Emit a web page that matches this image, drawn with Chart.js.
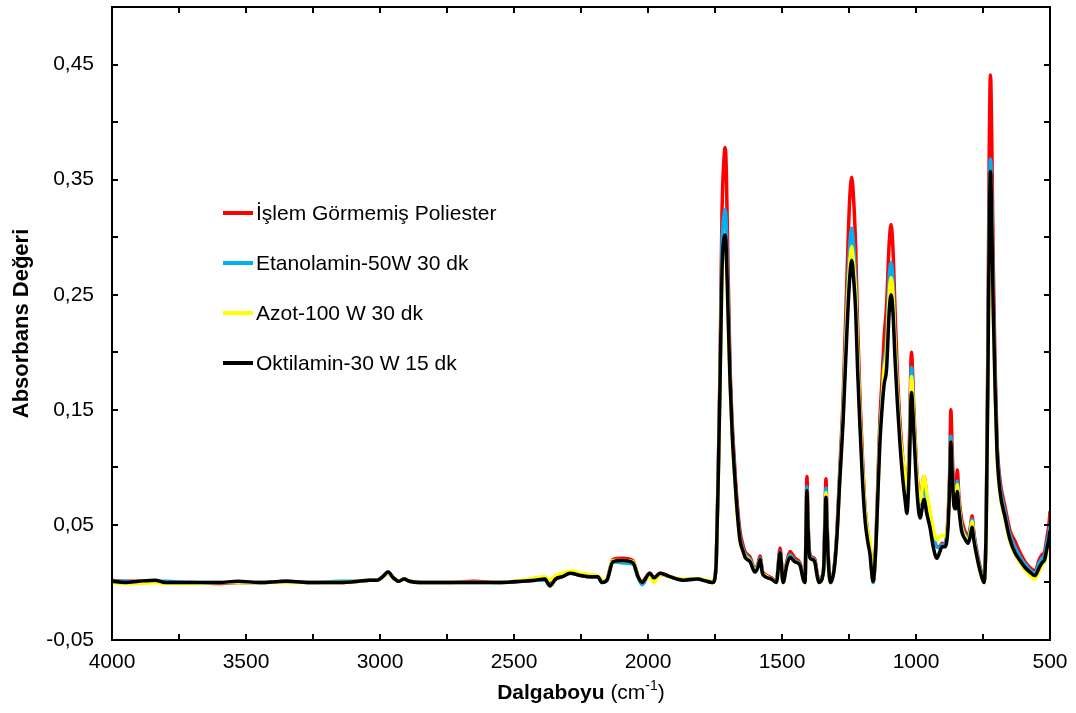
<!DOCTYPE html>
<html>
<head>
<meta charset="utf-8">
<script src="https://cdn.jsdelivr.net/npm/chart.js@4.4.1/dist/chart.umd.min.js"></script>
<style>
  body { margin: 0; background: #fff; }
  canvas { display: block; }
</style>
</head>
<body>
<canvas id="chart" width="1076" height="713"></canvas>
<script>
// wavenumbers (cm-1) and absorbance
const waveNumbers = [
  4000, 3950, 3900, 3840, 3800, 3700, 3600, 3530, 3450, 3350,
  3250, 3150, 3080, 3040, 3010, 2990, 2970, 2950, 2930, 2910,
  2890, 2850, 2750, 2650, 2550, 2470, 2420, 2385, 2366, 2345,
  2320, 2291, 2250, 2216, 2187, 2172, 2153, 2131, 2093, 2056,
  2037, 2022, 1993, 1978, 1955, 1918, 1869, 1817, 1780, 1760,
  1752, 1745, 1738, 1731, 1724, 1716, 1712, 1708, 1702, 1694,
  1686, 1680, 1670, 1657, 1645, 1638, 1619, 1601, 1590, 1582,
  1573, 1563, 1540, 1521, 1507, 1496, 1482, 1470, 1452, 1433,
  1420, 1414, 1410, 1407, 1403, 1397, 1388, 1377, 1369, 1362,
  1345, 1340, 1336, 1332, 1325, 1318, 1305, 1295, 1284, 1272,
  1257, 1248, 1240, 1232, 1225, 1218, 1209, 1200, 1190, 1179,
  1172, 1165, 1160, 1150, 1142, 1135, 1127, 1119, 1110, 1100,
  1093, 1086, 1078, 1070, 1060, 1049, 1040, 1034, 1025, 1017,
  1008, 996, 985, 970, 960, 948, 935, 922, 912, 903,
  892, 880, 874, 870, 865, 858, 852, 846, 840, 830,
  818, 806, 796, 791, 785, 775, 765, 755, 746, 738,
  732, 727, 722, 717, 712, 705, 698, 687, 668, 649,
  631, 612, 593, 575, 556, 540, 530, 520, 511, 504,
  500
];

const untreated = [
  .002, .001, .001, .001, .000, .000, -.001, .000, .000, .001,
  .000, .000, .001, .002, .002, .005, .008, .004, .001, .003,
  .001, .000, .000, .001, .000, .001, .002, .003, .000, .003,
  .005, .009, .006, .005, .005, .001, .003, .020, .021, .019,
  .005, .001, .008, .004, .008, .005, .002, .003, .001, .000,
  .002, .022, .095, .190, .320, .370, .378, .360, .280, .190,
  .140, .115, .078, .045, .032, .027, .022, .012, .016, .023,
  .010, .007, .004, .001, .030, .001, .018, .027, .021, .017,
  .004, .001, .055, .092, .055, .026, .022, .020, .008, .001,
  .012, .055, .090, .055, .012, .000, .014, .045, .100, .160,
  .270, .330, .352, .330, .290, .225, .160, .110, .065, .042,
  .033, .012, .000, .035, .090, .140, .175, .213, .240, .295,
  .311, .290, .235, .185, .140, .107, .088, .080, .120, .200,
  .150, .095, .072, .092, .075, .060, .042, .031, .031, .034,
  .033, .060, .100, .150, .115, .075, .072, .098, .075, .055,
  .045, .040, .050, .058, .045, .030, .018, .008, .001, .055,
  .200, .370, .441, .380, .280, .190, .125, .090, .066, .045,
  .036, .026, .018, .013, .010, .020, .024, .027, .040, .050,
  .062
];

const ethanolamine = [
  .001, .001, .000, .001, .001, .000, .000, .000, .000, .001,
  .000, .001, .001, .002, .002, .005, .009, .004, .001, .003,
  .001, .000, .000, .000, .000, .001, .002, .002, -.002, .003,
  .005, .008, .006, .005, .005, .000, .002, .018, .017, .016,
  .004, -.002, .007, .003, .007, .005, .002, .003, .001, .000,
  .002, .021, .090, .180, .290, .320, .324, .310, .255, .180,
  .133, .108, .072, .040, .029, .025, .020, .011, .015, .021,
  .009, .006, .003, .001, .027, .001, .016, .024, .019, .016,
  .003, .001, .050, .083, .050, .024, .021, .018, .007, .001,
  .011, .050, .082, .050, .011, .000, .013, .042, .095, .150,
  .245, .290, .308, .290, .260, .205, .145, .100, .060, .038,
  .030, .010, .000, .030, .082, .130, .160, .190, .210, .265,
  .278, .262, .210, .170, .130, .100, .083, .075, .110, .187,
  .140, .090, .068, .085, .070, .055, .040, .031, .030, .033,
  .032, .055, .090, .127, .100, .070, .068, .088, .070, .050,
  .042, .037, .048, .055, .043, .028, .016, .007, .001, .052,
  .180, .320, .368, .330, .250, .178, .120, .085, .061, .041,
  .031, .022, .016, .011, .008, .017, .021, .024, .035, .043,
  .051
];

const nitrogen = [
  .000, -.001, -.001, .000, -.001, -.001, .000, .000, .000, .000,
  .000, .000, .001, .002, .002, .005, .008, .004, .001, .003,
  .001, .000, .000, .000, .000, .002, .004, .005, .002, .006,
  .008, .010, .008, .007, .006, .002, .003, .019, .019, .018,
  .005, .000, .006, .000, .007, .005, .003, .003, .002, .001,
  .003, .020, .088, .175, .265, .293, .296, .285, .235, .172,
  .128, .103, .068, .036, .027, .023, .019, .010, .014, .020,
  .008, .006, .003, .001, .026, .000, .015, .022, .018, .015,
  .003, .000, .048, .080, .048, .022, .020, .017, .006, .000,
  .010, .047, .078, .047, .010, .000, .012, .040, .090, .145,
  .235, .275, .292, .275, .250, .200, .145, .100, .062, .042,
  .036, .012, .002, .030, .080, .125, .155, .185, .200, .250,
  .265, .250, .205, .168, .130, .107, .090, .078, .110, .179,
  .140, .092, .070, .092, .078, .062, .046, .037, .040, .041,
  .040, .055, .088, .122, .095, .068, .066, .085, .068, .048,
  .040, .035, .046, .053, .040, .025, .014, .005, .000, .048,
  .165, .290, .350, .305, .235, .165, .110, .078, .055, .035,
  .025, .017, .011, .006, .003, .010, .015, .018, .028, .035,
  .042
];

const octylamine = [
  .001, .000, .001, .002, .000, .000, .000, .001, .000, .001,
  .000, .000, .001, .002, .002, .005, .009, .004, .001, .003,
  .001, .000, .000, .000, .000, .001, .002, .003, -.003, .003,
  .005, .008, .006, .005, .005, .000, .002, .018, .019, .017,
  .005, .000, .008, .004, .008, .005, .002, .003, .001, .000,
  .002, .020, .090, .176, .270, .300, .302, .290, .240, .176,
  .130, .105, .070, .037, .027, .022, .018, .009, .013, .020,
  .008, .005, .003, .000, .026, .000, .015, .022, .018, .015,
  .002, .000, .048, .080, .048, .022, .020, .017, .006, .000,
  .010, .045, .074, .045, .010, .000, .012, .040, .090, .140,
  .222, .262, .280, .262, .235, .185, .135, .090, .054, .034,
  .025, .008, .001, .030, .078, .120, .150, .172, .185, .235,
  .250, .235, .193, .158, .121, .089, .070, .060, .100, .165,
  .130, .078, .056, .072, .060, .048, .030, .021, .026, .031,
  .031, .050, .088, .122, .095, .066, .064, .079, .064, .045,
  .038, .034, .042, .048, .038, .025, .014, .005, .000, .050,
  .170, .300, .357, .310, .240, .170, .115, .080, .057, .037,
  .026, .019, .013, .009, .006, .013, .017, .020, .030, .038,
  .045
];

const seriesNames = ["İşlem Görmemiş Poliester", "Etanolamin-50W 30 dk", "Azot-100 W 30 dk", "Oktilamin-30 W 15 dk"];
const seriesColors = ["#ff0000", "#00b0f0", "#ffff00", "#000000"];
const seriesValues = [untreated, ethanolamine, nitrogen, octylamine];

const FONT = "'Liberation Sans', Arial, sans-serif";

const datasets = seriesValues.map((vals, i) => ({
  label: seriesNames[i],
  data: waveNumbers.map((w, j) => ({ x: w, y: vals[j] })),
  borderColor: seriesColors[i],
  backgroundColor: seriesColors[i],
  order: seriesValues.length - 1 - i   // black drawn on top
}));

// frame, inward ticks, legend and axis titles
const decorPlugin = {
  id: "decor",
  afterDraw(chart) {
    const c = chart.ctx;
    const a = chart.chartArea;
    const xs = chart.scales.x, ys = chart.scales.y;
    const tl = 6;
    c.save();
    c.strokeStyle = "#000";
    c.lineWidth = 2;
    c.strokeRect(a.left, a.top, a.right - a.left, a.bottom - a.top);
    c.beginPath();
    xs.ticks.forEach(t => {
      const px = Math.round(xs.getPixelForValue(t.value));
      c.moveTo(px, a.bottom); c.lineTo(px, a.bottom - tl);
      c.moveTo(px, a.top); c.lineTo(px, a.top + tl);
    });
    ys.ticks.forEach(t => {
      const py = Math.round(ys.getPixelForValue(t.value));
      c.moveTo(a.left, py); c.lineTo(a.left + tl, py);
      c.moveTo(a.right, py); c.lineTo(a.right - tl, py);
    });
    c.stroke();

    // legend
    c.font = "21px " + FONT;
    c.textBaseline = "middle";
    c.textAlign = "left";
    chart.data.datasets.forEach((ds, i) => {
      const y = 213 + i * 50;
      c.strokeStyle = ds.borderColor;
      c.lineWidth = 4;
      c.beginPath(); c.moveTo(223, y); c.lineTo(253, y); c.stroke();
      c.fillStyle = "#000";
      c.fillText(ds.label, 256, y + 1);
    });

    // y title
    c.save();
    c.translate(22, (a.top + a.bottom) / 2);
    c.rotate(-Math.PI / 2);
    c.font = "bold 22px " + FONT;
    c.textAlign = "center";
    c.fillText("Absorbans Değeri", 0, 0);
    c.restore();

    // x title with superscript
    const bold = "bold 21px " + FONT, norm = "21px " + FONT, sup = "14px " + FONT;
    const parts = [["Dalgaboyu", bold, 0], [" (cm", norm, 0], ["-1", sup, -7], [")", norm, 0]];
    let w = 0;
    parts.forEach(p => { c.font = p[1]; w += c.measureText(p[0]).width; });
    let x = (a.left + a.right) / 2 - w / 2;
    const y0 = 693;
    c.textAlign = "left";
    parts.forEach(p => {
      c.font = p[1];
      c.fillText(p[0], x, y0 + p[2]);
      x += c.measureText(p[0]).width;
    });
    c.restore();
  }
};

const ctx = document.getElementById("chart").getContext("2d");
new Chart(ctx, {
  type: "line",
  data: { datasets: datasets },
  options: {
    responsive: false,
    animation: false,
    layout: { padding: { top: 7, right: 26, left: 0, bottom: 0 } },
    elements: {
      point: { radius: 0 },
      line: { borderWidth: 3.5, cubicInterpolationMode: "monotone" }
    },
    plugins: { legend: { display: false }, tooltip: { enabled: false } },
    scales: {
      x: {
        type: "linear",
        reverse: true,
        min: 500,
        max: 4000,
        grid: { display: false, drawTicks: false },
        border: { display: false },
        ticks: {
          stepSize: 250,
          autoSkip: false,
          maxRotation: 0,
          padding: 10,
          color: "#000",
          font: { family: FONT, size: 21 },
          callback: v => (v % 500 === 0 ? String(v) : "")
        },
        afterFit: s => {
          s.height = 73;
          s.paddingLeft = 0; s.paddingRight = 0;
        }
      },
      y: {
        min: -0.05,
        max: 0.5,
        grid: { display: false, drawTicks: false },
        border: { display: false },
        ticks: {
          stepSize: 0.05,
          autoSkip: false,
          padding: 18,
          color: "#000",
          font: { family: FONT, size: 21 },
          callback: v => {
            const r = Math.round(v * 100);
            return (r + 5) % 10 === 0 ? v.toFixed(2).replace(".", ",") : "";
          }
        },
        afterFit: s => {
          s.width = 112;
          s.paddingTop = 0; s.paddingBottom = 0;
        }
      }
    }
  },
  plugins: [decorPlugin]
});
</script>
</body>
</html>
